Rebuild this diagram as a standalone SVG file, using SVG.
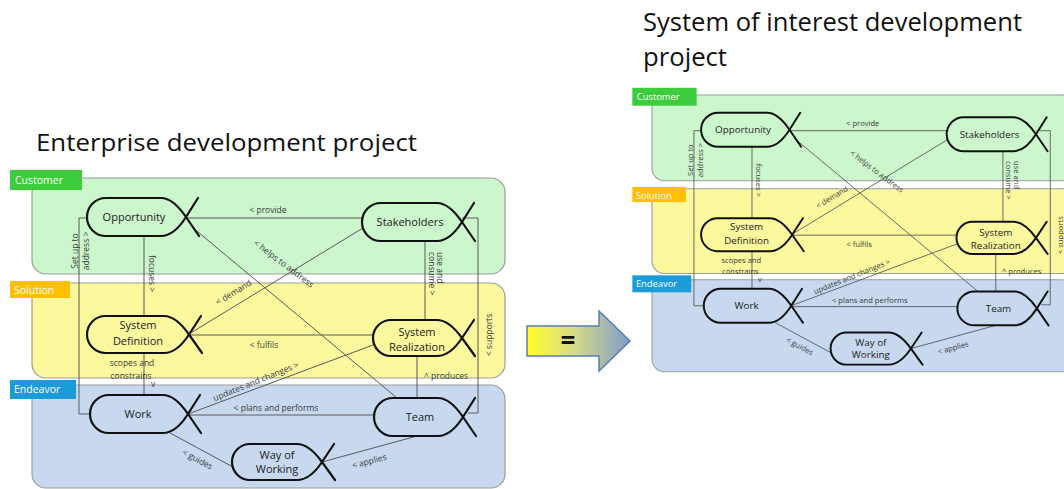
<svg xmlns="http://www.w3.org/2000/svg" width="1064" height="489" viewBox="0 0 1064 489">
<defs>
<linearGradient id="arrowGrad" x1="0" y1="0" x2="1" y2="0">
<stop offset="0" stop-color="#ffff2a"/>
<stop offset="0.45" stop-color="#d8dc86"/>
<stop offset="1" stop-color="#7f9ccb"/>
</linearGradient>
<style>
text{font-family:"Open Sans","Liberation Sans",sans-serif}
.title{font-size:24px;fill:#111}
.band{stroke:#9c9c9c;stroke-width:1.2}
.bc{fill:#ccf6cc}
.bs{fill:#fbf89e}
.be{fill:#c7d8ef}
.tab text{font-size:10.5px;fill:#fff}
.node path{fill:none;stroke:#111;stroke-width:2.2;stroke-linejoin:round;stroke-linecap:round}
.node text{font-size:11px;fill:#222;text-anchor:middle}
.conn path{fill:none;stroke:#5a5a5a;stroke-width:1}
.lbl{font-size:8.5px;fill:#3a3a3a}
.mid{text-anchor:middle}
</style>
</defs>
<rect width="1064" height="489" fill="#ffffff"/>

<text class="title" x="36" y="151" textLength="381" lengthAdjust="spacingAndGlyphs">Enterprise development project</text>
<text class="title" x="643" y="31" textLength="379" lengthAdjust="spacingAndGlyphs" style="font-size:25px">System of interest development</text>
<text class="title" x="643" y="66" textLength="84" lengthAdjust="spacingAndGlyphs" style="font-size:25px">project</text>

<g id="equals-arrow">
<path d="M527,326 H599 V311 L630,341 L599,371 V356 H527 Z" fill="url(#arrowGrad)" stroke="#5b7db5" stroke-width="1.5"/>
<text x="568" y="350" style="font-size:26px;font-weight:bold;fill:#111" class="mid">=</text>
</g>

<!-- LEFT DIAGRAM -->
<g id="left-diagram">
<g id="l-lanes">
<rect class="band bc" x="32" y="178" width="473" height="96" rx="14"/>
<rect class="band bs" x="32" y="283" width="473" height="95" rx="14"/>
<rect class="band be" x="32" y="385" width="473" height="103" rx="14"/>
<g class="tab" id="l-tab-customer"><rect x="10" y="170" width="72" height="20" fill="#3ccc3c"/><text x="15" y="184">Customer</text></g>
<g class="tab" id="l-tab-solution"><rect x="10" y="281" width="60" height="17" fill="#ffc000"/><text x="14" y="294">Solution</text></g>
<g class="tab" id="l-tab-endeavor"><rect x="10" y="380" width="66" height="19" fill="#1b9bd7"/><text x="14" y="393">Endeavor</text></g>
</g>
<g id="l-connectors" class="conn">
<path d="M186,218 H363"/>
<path d="M192,227 L397,398"/>
<path d="M189,334 L363,228"/>
<path d="M189,335 H374"/>
<path d="M188,414 L373,345"/>
<path d="M188,415 H375"/>
<path d="M170,433 L233,467"/>
<path d="M322,462 L417,436"/>
<path d="M144,236 V316"/>
<path d="M144,353 V395"/>
<path d="M425,241 V320"/>
<path d="M417,356 V398"/>
<path d="M87,218 H79 V414 H90"/>
<path d="M462,218 H478 V413 H468"/>
<text class="lbl mid" x="268" y="213">&lt; provide</text>
<text class="lbl mid" transform="translate(282,266) rotate(37)">&lt; helps to address</text>
<text class="lbl mid" transform="translate(235,295) rotate(-31)">&lt; demand</text>
<text class="lbl mid" x="264" y="348">&lt; fulfils</text>
<text class="lbl mid" transform="translate(257,384) rotate(-22)">updates and changes &gt;</text>
<text class="lbl mid" x="276" y="411">&lt; plans and performs</text>
<text class="lbl mid" transform="translate(196,462) rotate(28)">&lt; guides</text>
<text class="lbl mid" transform="translate(370,464) rotate(-15)">&lt; applies</text>
<text class="lbl" transform="translate(149,255) rotate(90)">focuses &gt;</text>
<text class="lbl mid" x="132" y="366">scopes and</text>
<text class="lbl mid" x="131" y="379">constrains</text>
<text class="lbl mid" x="153" y="387">v</text>
<text class="lbl" transform="translate(436,252) rotate(90)"><tspan x="0" y="-1">use and</tspan><tspan x="0" y="7">consume &gt;</tspan></text>
<text class="lbl mid" x="446" y="379">^ produces</text>
<text class="lbl mid" transform="translate(78,251) rotate(-90)"><tspan x="0" y="0">Set up to</tspan><tspan x="0" y="11">address &gt;</tspan></text>
<text class="lbl mid" transform="translate(492,335) rotate(-90)">&lt; supports</text>
</g>
<g id="l-opportunity" class="node" transform="translate(87,198)">
<path d="M74,0 H19 A19,19 0 0 0 19,38 H74 Q87,38 99,19 L111,0 M74,0 Q86,0 99,19 L112,38"/>
<text x="47" y="23">Opportunity</text>
</g>
<g id="l-stakeholders" class="node" transform="translate(362,203)">
<path d="M75,0 H19 A19,19 0 0 0 19,38 H75 Q88,38 100,19 L112,0 M75,0 Q87,0 100,19 L113,38"/>
<text x="48" y="23">Stakeholders</text>
</g>
<g id="l-system-definition" class="node" transform="translate(87,316)">
<path d="M77,0 H18.5 A18.5,18.5 0 0 0 18.5,37 H77 Q90,37 102,18.5 L114,0 M77,0 Q89,0 102,18.5 L115,37"/>
<text x="51" y="13">System</text>
<text x="51" y="29">Definition</text>
</g>
<g id="l-system-realization" class="node" transform="translate(373,320)">
<path d="M64,0 H18 A18,18 0 0 0 18,36 H64 Q77,36 89,18 L101,0 M64,0 Q76,0 89,18 L102,36"/>
<text x="44" y="16">System</text>
<text x="44" y="31">Realization</text>
</g>
<g id="l-work" class="node" transform="translate(90,395)">
<path d="M73,0 H19 A19,19 0 0 0 19,38 H73 Q86,38 98,19 L110,0 M73,0 Q85,0 98,19 L111,38"/>
<text x="48" y="23">Work</text>
</g>
<g id="l-team" class="node" transform="translate(374,398)">
<path d="M64,0 H19 A19,19 0 0 0 19,38 H64 Q77,38 89,19 L101,0 M64,0 Q76,0 89,19 L102,38"/>
<text x="46" y="23">Team</text>
</g>
<g id="l-way-of-working" class="node" transform="translate(232,444)">
<path d="M65,0 H18 A18,18 0 0 0 18,36 H65 Q78,36 90,18 L102,0 M65,0 Q77,0 90,18 L103,36"/>
<text x="45" y="15">Way of</text>
<text x="45" y="29">Working</text>
</g>
</g>

<!-- RIGHT DIAGRAM -->
<g id="right-diagram" transform="translate(623.4,-64) scale(0.893)">
<g id="r-lanes">
<rect class="band bc" x="32" y="178" width="473" height="96" rx="14"/>
<rect class="band bs" x="32" y="283" width="473" height="95" rx="14"/>
<rect class="band be" x="32" y="385" width="473" height="103" rx="14"/>
<g class="tab" id="r-tab-customer"><rect x="10" y="170" width="72" height="20" fill="#3ccc3c"/><text x="15" y="184">Customer</text></g>
<g class="tab" id="r-tab-solution"><rect x="10" y="281" width="60" height="17" fill="#ffc000"/><text x="14" y="294">Solution</text></g>
<g class="tab" id="r-tab-endeavor"><rect x="10" y="380" width="66" height="19" fill="#1b9bd7"/><text x="14" y="393">Endeavor</text></g>
</g>
<g id="r-connectors" class="conn">
<path d="M186,218 H363"/>
<path d="M192,227 L397,398"/>
<path d="M189,334 L363,228"/>
<path d="M189,335 H374"/>
<path d="M188,414 L373,345"/>
<path d="M188,415 H375"/>
<path d="M170,433 L233,467"/>
<path d="M322,462 L417,436"/>
<path d="M144,236 V316"/>
<path d="M144,353 V395"/>
<path d="M425,241 V320"/>
<path d="M417,356 V398"/>
<path d="M87,218 H79 V414 H90"/>
<path d="M462,218 H478 V413 H468"/>
<text class="lbl mid" x="268" y="213">&lt; provide</text>
<text class="lbl mid" transform="translate(282,266) rotate(37)">&lt; helps to address</text>
<text class="lbl mid" transform="translate(235,295) rotate(-31)">&lt; demand</text>
<text class="lbl mid" x="264" y="348">&lt; fulfils</text>
<text class="lbl mid" transform="translate(257,384) rotate(-22)">updates and changes &gt;</text>
<text class="lbl mid" x="276" y="411">&lt; plans and performs</text>
<text class="lbl mid" transform="translate(196,462) rotate(28)">&lt; guides</text>
<text class="lbl mid" transform="translate(370,464) rotate(-15)">&lt; applies</text>
<text class="lbl" transform="translate(149,255) rotate(90)">focuses &gt;</text>
<text class="lbl mid" x="132" y="366">scopes and</text>
<text class="lbl mid" x="131" y="379">constrains</text>
<text class="lbl mid" x="153" y="387">v</text>
<text class="lbl" transform="translate(436,252) rotate(90)"><tspan x="0" y="-1">use and</tspan><tspan x="0" y="7">consume &gt;</tspan></text>
<text class="lbl mid" x="446" y="379">^ produces</text>
<text class="lbl mid" transform="translate(78,251) rotate(-90)"><tspan x="0" y="0">Set up to</tspan><tspan x="0" y="11">address &gt;</tspan></text>
<text class="lbl mid" transform="translate(492,335) rotate(-90)">&lt; supports</text>
</g>
<g id="r-opportunity" class="node" transform="translate(87,198)">
<path d="M74,0 H19 A19,19 0 0 0 19,38 H74 Q87,38 99,19 L111,0 M74,0 Q86,0 99,19 L112,38"/>
<text x="47" y="23">Opportunity</text>
</g>
<g id="r-stakeholders" class="node" transform="translate(362,203)">
<path d="M75,0 H19 A19,19 0 0 0 19,38 H75 Q88,38 100,19 L112,0 M75,0 Q87,0 100,19 L113,38"/>
<text x="48" y="23">Stakeholders</text>
</g>
<g id="r-system-definition" class="node" transform="translate(87,316)">
<path d="M77,0 H18.5 A18.5,18.5 0 0 0 18.5,37 H77 Q90,37 102,18.5 L114,0 M77,0 Q89,0 102,18.5 L115,37"/>
<text x="51" y="13">System</text>
<text x="51" y="29">Definition</text>
</g>
<g id="r-system-realization" class="node" transform="translate(373,320)">
<path d="M64,0 H18 A18,18 0 0 0 18,36 H64 Q77,36 89,18 L101,0 M64,0 Q76,0 89,18 L102,36"/>
<text x="44" y="16">System</text>
<text x="44" y="31">Realization</text>
</g>
<g id="r-work" class="node" transform="translate(90,395)">
<path d="M73,0 H19 A19,19 0 0 0 19,38 H73 Q86,38 98,19 L110,0 M73,0 Q85,0 98,19 L111,38"/>
<text x="48" y="23">Work</text>
</g>
<g id="r-team" class="node" transform="translate(374,398)">
<path d="M64,0 H19 A19,19 0 0 0 19,38 H64 Q77,38 89,19 L101,0 M64,0 Q76,0 89,19 L102,38"/>
<text x="46" y="23">Team</text>
</g>
<g id="r-way-of-working" class="node" transform="translate(232,444)">
<path d="M65,0 H18 A18,18 0 0 0 18,36 H65 Q78,36 90,18 L102,0 M65,0 Q77,0 90,18 L103,36"/>
<text x="45" y="15">Way of</text>
<text x="45" y="29">Working</text>
</g>
</g>
</svg>
